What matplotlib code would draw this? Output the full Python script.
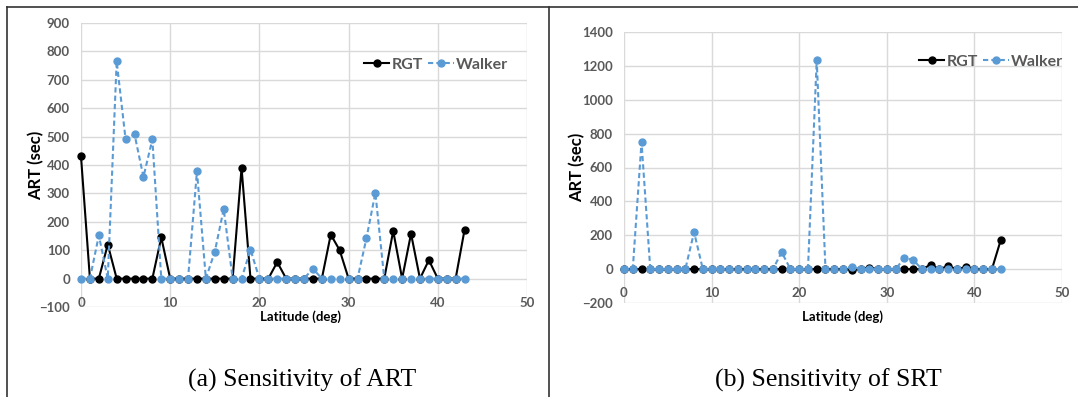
import matplotlib
matplotlib.use("Agg")
import matplotlib.pyplot as plt
from matplotlib.lines import Line2D

latitude = list(range(44))

rgt_art = [430, 0, 0, 120, 0, 0, 0, 0, 0, 145, 0, 0, 0, 0, 0, 0, 0, 0, 390, 0,
           0, 0, 58, 0, 0, 0, 0, 0, 155, 100, 0, 0, 0, 0, 0, 168, 0, 158, 0, 65,
           0, 0, 0, 172]
walker_art = [0, 0, 152, 0, 765, 490, 508, 358, 490, 0, 0, 0, 0, 378, 0, 95, 245, 0, 0, 102,
              0, 0, 0, 0, 0, 0, 35, 0, 0, 0, 0, 0, 142, 302, 0, 0, 0, 0, 0, 0,
              0, 0, 0, 0]

rgt_srt = [0, 0, 0, 0, 0, 0, 0, 0, 0, 0, 0, 0, 0, 0, 0, 0, 0, 0, 0, 0,
           0, 0, 0, 0, 0, 0, -3, 0, 8, 0, 0, 0, 0, 0, 0, 25, 0, 18, 0, 12,
           0, 0, 0, 170]
walker_srt = [0, 0, 750, 0, 0, 0, 0, 0, 218, 0, 0, 0, 0, 0, 0, 0, 0, 0, 100, 0,
              0, 0, 1235, 0, 0, 0, 15, 0, 0, 0, 0, 0, 65, 55, 0, 0, 0, 0, 0, 0,
              0, 0, 0, 0]

x_ticks = [0, 10, 20, 30, 40, 50]
y_ticks_a = [-100, 0, 100, 200, 300, 400, 500, 600, 700, 800, 900]
y_ticks_b = [-200, 0, 200, 400, 600, 800, 1000, 1200, 1400]
captions = ["(a) Sensitivity of ART", "(b) Sensitivity of SRT"]
series_names = ["RGT", "Walker"]

BLUE = "#5B9BD5"
GRID = "#D9D9D9"
TXT = "#595959"

W, H = 1078, 397
fig = plt.figure(figsize=(W / 100, H / 100), dpi=100)

def fx(px):
    return px / W

def fy(py):
    return 1 - py / H

# Frame lines (table borders)
for (x0, y0, x1, y1) in [(7, 7, 1078, 7), (7, 7, 7, 397), (549, 7, 549, 397)]:
    fig.add_artist(Line2D([fx(x0), fx(x1)], [fy(y0), fy(y1)], color="#333333", lw=1.2,
                          transform=fig.transFigure))

def make(axbox, rgt, walker, yticks, legend_xy, caption, cap_x, ylab_x, xlab_x):
    l, r, t, b = axbox
    ax = fig.add_axes([fx(l), fy(b), fx(r) - fx(l), fy(t) - fy(b)])
    ax.set_xlim(0, 50)
    ax.set_ylim(yticks[0], yticks[-1])
    ax.set_xticks(x_ticks)
    ax.set_yticks(yticks)
    ax.grid(True, color=GRID, lw=1)
    ax.set_axisbelow(True)
    for s in ["top", "right", "left"]:
        ax.spines[s].set_visible(False)
    ax.spines["bottom"].set_position(("data", 0))
    ax.spines["bottom"].set_visible(False)
    ax.tick_params(axis="both", length=0, labelcolor=TXT, labelsize=9.5)
    ax.tick_params(axis="x", pad=13)
    ax.tick_params(axis="y", pad=8)
    for lab in ax.get_xticklabels() + ax.get_yticklabels():
        lab.set_fontweight("bold")
        lab.set_fontfamily("Lato")
    ax.plot(latitude, rgt, color="black", lw=1.5, marker="o", ms=5, label=series_names[0],
            zorder=3, clip_on=False)
    ax.plot(latitude, walker, color=BLUE, lw=1.5, ls=(0, (2.5, 1.5)), marker="o", ms=5,
            label=series_names[1], zorder=4, clip_on=False)
    leg = ax.legend(loc="center", bbox_to_anchor=(fx(legend_xy[0]), fy(legend_xy[1])),
                    bbox_transform=fig.transFigure, ncol=2, frameon=False,
                    handlelength=1.6, handletextpad=0.15, columnspacing=0.3,
                    prop={"family": "Lato", "weight": "bold", "size": 11.5})
    for txt in leg.get_texts():
        txt.set_color(TXT)
    fig.text(fx(ylab_x), fy((t + b) / 2), "ART (sec)", rotation=90, ha="center", va="center",
             fontsize=12, fontweight="bold", family="Lato", color="black")
    fig.text(fx(xlab_x), fy(317), "Latitude (deg)", ha="center", va="center",
             fontsize=9.5, fontweight="bold", family="Lato", color="black")
    fig.text(fx(cap_x), fy(380), caption, ha="center", va="center",
             fontsize=18.5, family="Liberation Serif", color="black")
    return ax

make((81, 527, 23, 307), rgt_art, walker_art, y_ticks_a, (436, 65), captions[0], 302, 36, 300)
make((624, 1062, 32, 303), rgt_srt, walker_srt, y_ticks_b, (991, 62), captions[1], 828, 577, 843)

fig.savefig("out.png", dpi=100)
